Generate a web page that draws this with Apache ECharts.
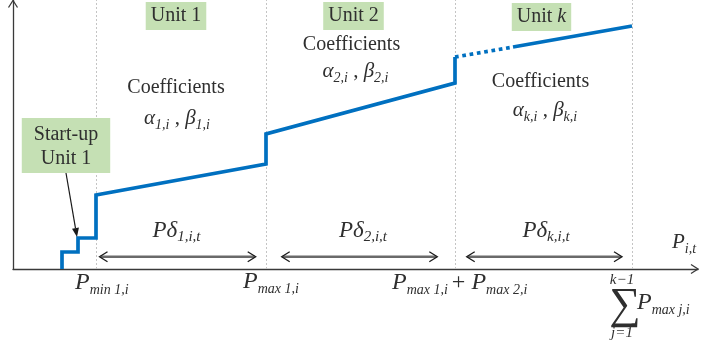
<!DOCTYPE html>
<html>
<head>
<meta charset="utf-8">
<script src="https://cdn.jsdelivr.net/npm/echarts@6/dist/echarts.min.js"></script>
<style>
  html, body { margin: 0; padding: 0; background: #fff; }
  #chart { width: 724px; height: 349px; }
</style>
</head>
<body>
<div id="chart"></div>
<script>
// Stepwise offer curve of a generator: output P on x, cost on y (arbitrary units).
// Start-up steps first, then one linear cost block per unit.
const startupX = [49, 49, 65, 65, 83];
const startupY = [0, 17, 17, 31, 31];
const blockX = [83, 83, 253, 253, 442, 442];
const blockY = [31, 74, 105, 135, 186, 212];
const gapX = [442, 500];            // units 3 .. k-1 left out
const gapY = [212, 222];
const lastX = [500, 619];
const lastY = [222, 243];
const boundaryX = [83, 253, 442, 619];   // block limits (P_min, P_max sums)
const spanStart = [86.5, 268.7, 453.7];  // extent of each P-delta block
const spanEnd = [242.7, 424.3, 609];
const spanLevel = 12.3;
const axisMaxX = 685;
const axisMaxY = 269;

const zip = (xs, ys) => xs.map((x, i) => [x, ys[i]]);

const blue = '#0070c0';
const ink = '#2f2f2f';
const axisInk = '#3a3a3a';
const green = '#c5e0b4';
const family = '"Liberation Serif", "Times New Roman", serif';
const font = (size, italic) => (italic ? 'italic ' : 'normal ') + size + 'px ' + family;

const chart = echarts.init(document.getElementById('chart'), null, { renderer: 'canvas' });

const hiddenAxis = (max) => ({
  type: 'value', min: 0, max: max,
  axisLine: { show: true, onZero: false, lineStyle: { color: axisInk, width: 1.3 } },
  axisTick: { show: false }, axisLabel: { show: false }, splitLine: { show: false }
});

const curveStyle = { color: blue, width: 3.7, join: 'miter', cap: 'butt' };

chart.setOption({
  animation: false,
  grid: { left: 13, right: 26, top: 0, bottom: 80 },
  xAxis: hiddenAxis(axisMaxX),
  yAxis: hiddenAxis(axisMaxY),
  series: [
    {
      // dotted block boundaries
      type: 'line', data: [], z: 1,
      markLine: {
        z: 1, silent: true, symbol: 'none', label: { show: false },
        lineStyle: { type: [2, 2], color: '#c4c4c4', width: 1 },
        data: boundaryX.map(x => ({ xAxis: x }))
      }
    },
    {
      type: 'line', z: 3, showSymbol: false, symbol: 'none',
      data: zip(startupX, startupY).concat(zip(blockX, blockY).slice(1)),
      lineStyle: curveStyle
    },
    {
      type: 'line', z: 3, showSymbol: false, symbol: 'none',
      data: zip(gapX, gapY),
      lineStyle: Object.assign({}, curveStyle, { type: [3.7, 3.7] })
    },
    {
      type: 'line', z: 3, showSymbol: false, symbol: 'none',
      data: zip(lastX, lastY),
      lineStyle: curveStyle
    },
    {
      // double-headed P-delta arrows
      type: 'custom', z: 2, clip: false,
      data: spanStart.map((s, i) => [s, spanEnd[i], spanLevel]),
      renderItem: function (params, api) {
        const a = api.coord([api.value(0), api.value(2)]);
        const b = api.coord([api.value(1), api.value(2)]);
        const head = { stroke: '#1a1a1a', lineWidth: 1.3, fill: null };
        return {
          type: 'group',
          children: [
            { type: 'line', shape: { x1: a[0] + 1, y1: a[1], x2: b[0] - 1, y2: b[1] },
              style: { stroke: '#6a6a6a', lineWidth: 2.6 } },
            { type: 'polyline', shape: { points: [[a[0] + 8, a[1] - 5], [a[0], a[1]], [a[0] + 8, a[1] + 5]] }, style: head },
            { type: 'polyline', shape: { points: [[b[0] - 8, b[1] - 5], [b[0], b[1]], [b[0] - 8, b[1] + 5]] }, style: head }
          ]
        };
      }
    }
  ]
});

// ---- annotations ----
const px = p => chart.convertToPixel({ gridIndex: 0 }, p);

// main symbol sits at the top of a padded line box, subscripts drop to its bottom
const main = (size, italic, lh, drop, padLeft) =>
  ({ font: font(size, italic), lineHeight: lh, verticalAlign: 'top', padding: [0, 0, drop, padLeft || 0], fill: ink });
const sub = (size) =>
  ({ font: font(size, true), lineHeight: size + 1, verticalAlign: 'bottom', fill: ink });

const rich = {
  p: main(24, true, 26, 3), ps: sub(14), pp: main(24, false, 26, 3, 4),
  d: main(23, true, 26, 3), ds: sub(15),
  q: main(21, true, 24, 3), qs: sub(14),
  g: main(21, true, 24, 3), gs: sub(14), gc: main(21, false, 24, 3),
  t: { font: font(20, false), fill: ink },
  tk: { font: font(20, true), fill: ink }
};

function text(str, x, y, align, extra) {
  return {
    type: 'text', x: x, y: y, z: 20, silent: true,
    style: Object.assign({
      text: str, rich: rich, fill: ink,
      font: font(20, false),
      align: align || 'center', verticalAlign: 'middle'
    }, extra || {})
  };
}

function coef(n) {
  return '{g|α}{gs|' + n + ',i}{gc| , }{g|β}{gs|' + n + ',i}';
}

const boxStyle = { backgroundColor: green, padding: [4, 5, 4, 5], lineHeight: 20 };

const graphics = [
  text('Coefficients', 176, 88),
  text('Coefficients', 351.5, 45),
  text('Coefficients', 540.5, 82),
  text(coef('1'), 177, 120),
  text(coef('2'), 355.5, 73),
  text(coef('k'), 545, 112),

  text('Unit 1', 176, 16, 'center', boxStyle),
  text('Unit 2', 353.5, 16, 'center', boxStyle),
  text('{t|Unit }{tk|k}', 541.5, 17, 'center', boxStyle),
  text('Start-up\nUnit 1', 66, 145.5, 'center',
    { backgroundColor: green, padding: [5, 12, 2, 12], lineHeight: 24 }),

  text('{d|Pδ}{ds|1,i,t}', 176.5, 232),
  text('{d|Pδ}{ds|2,i,t}', 363, 232),
  text('{d|Pδ}{ds|k,i,t}', 546, 232),

  text('{p|P}{ps|min 1,i}', 75, 284, 'left'),
  text('{p|P}{ps|max 1,i}', 243, 283, 'left'),
  text('{p|P}{ps|max 1,i}{pp|+ }{p|P}{ps|max 2,i}', 392, 284, 'left'),
  text('{q|P}{qs|i,t}', 672, 244, 'left'),

  text('∑', 625, 306, 'center', { font: font(44, false) }),
  text('k−1', 622, 280, 'center', { font: font(15, true) }),
  text('j=1', 622, 333, 'center', { font: font(15, true) }),
  text('{p|P}{ps|max j,i}', 637, 304, 'left')
];

// axis arrowheads
function chevron(tip, dx, dy, len, half) {
  const bx = tip[0] - dx * len, by = tip[1] - dy * len;
  return {
    type: 'polyline', z: 15, silent: true,
    shape: { points: [[bx - dy * half, by + dx * half], tip, [bx + dy * half, by - dx * half]] },
    style: { stroke: axisInk, lineWidth: 1.3, fill: null }
  };
}
const xEnd = px([axisMaxX, 0]);
const yEnd = px([0, axisMaxY]);
graphics.push(chevron([xEnd[0], xEnd[1]], 1, 0, 7, 4.5));
graphics.push(chevron([yEnd[0], yEnd[1] + 0.5], 0, -1, 7, 4.5));

// callout from the start-up box to the start-up steps
const corner = px([startupX[2], startupY[2] + 14]);
const tail = [66, 173];
const tip = [corner[0] - 1, corner[1] - 1];
const vx = tip[0] - tail[0], vy = tip[1] - tail[1];
const vl = Math.hypot(vx, vy), ux = vx / vl, uy = vy / vl;
const hb = [tip[0] - ux * 9, tip[1] - uy * 9];
graphics.push({
  type: 'line', z: 15, silent: true,
  shape: { x1: tail[0], y1: tail[1], x2: hb[0], y2: hb[1] },
  style: { stroke: '#1a1a1a', lineWidth: 1.2 }
});
graphics.push({
  type: 'polygon', z: 15, silent: true,
  shape: { points: [tip, [hb[0] - uy * 3.5, hb[1] + ux * 3.5], [hb[0] + uy * 3.5, hb[1] - ux * 3.5]] },
  style: { fill: '#1a1a1a' }
});

chart.setOption({ graphic: graphics });
</script>
</body>
</html>
